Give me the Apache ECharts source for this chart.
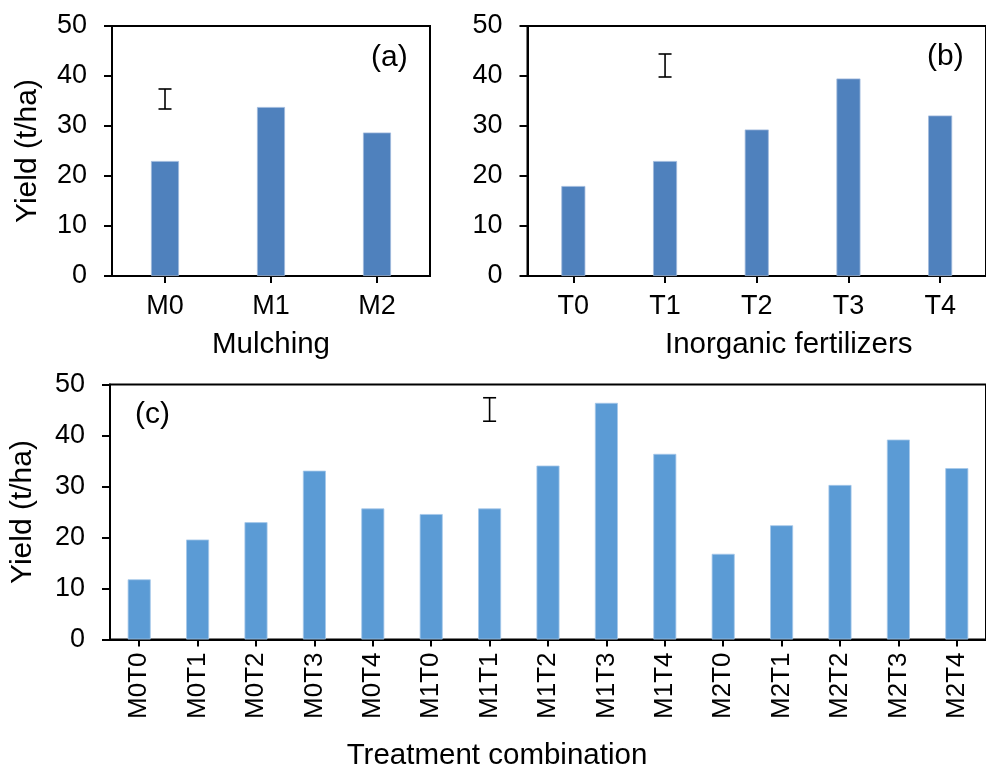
<!DOCTYPE html>
<html>
<head>
<meta charset="utf-8">
<script src="https://cdn.jsdelivr.net/npm/echarts@6/dist/echarts.min.js"></script>
<style>
html,body{margin:0;padding:0;background:#fff;}
#chart{width:986px;height:775px;}
</style>
</head>
<body>
<div id="chart"></div>
<script>
// ---- data ----
const mulchCats = ['M0', 'M1', 'M2'];
const mulchYield = [23.0, 33.8, 28.7];
const mulchLSD = [0, 33.4, 37.4]; // [category index, low, high]

const fertCats = ['T0', 'T1', 'T2', 'T3', 'T4'];
const fertYield = [18.0, 23.0, 29.3, 39.5, 32.1];
const fertLSD = [1, 39.8, 44.4];

const comboCats = ['M0T0','M0T1','M0T2','M0T3','M0T4','M1T0','M1T1','M1T2','M1T3','M1T4','M2T0','M2T1','M2T2','M2T3','M2T4'];
const comboYield = [11.8, 19.6, 23.0, 33.1, 25.7, 24.6, 25.7, 34.1, 46.4, 36.4, 16.8, 22.4, 30.3, 39.2, 33.6];
const comboLSD = [6, 42.8, 47.4];

const yTicks = [0, 10, 20, 30, 40, 50];

// ---- chart ----
const FONT = 'Liberation Sans, Arial, sans-serif';
const TITLE_SIZE = 29.5;
const chart = echarts.init(document.getElementById('chart'), null, {renderer: 'canvas'});

function errRender(params, api) {
  const x = api.value(0);
  const lo = api.coord([x, api.value(1)]);
  const hi = api.coord([x, api.value(2)]);
  const hw = 6.5;
  const st = {stroke: '#000', lineWidth: 1.6};
  return {type: 'group', children: [
    {type: 'line', shape: {x1: hi[0], y1: hi[1], x2: lo[0], y2: lo[1]}, style: st},
    {type: 'line', shape: {x1: hi[0]-hw, y1: hi[1], x2: hi[0]+hw, y2: hi[1]}, style: st},
    {type: 'line', shape: {x1: lo[0]-hw, y1: lo[1], x2: lo[0]+hw, y2: lo[1]}, style: st}
  ]};
}

const axisLine = {show: true, lineStyle: {color: '#000', width: 2}};
function yAx(gi, name, gap) {
  return {
    type: 'value', gridIndex: gi, min: yTicks[0], max: yTicks[yTicks.length-1], interval: 10,
    axisLine: axisLine,
    axisTick: {show: true, inside: false, length: 8, lineStyle: {color: '#000', width: 2}},
    axisLabel: {color: '#000', fontSize: 27, fontFamily: FONT, margin: 25},
    splitLine: {show: false},
    name: name, nameLocation: 'middle', nameGap: gap,
    nameTextStyle: {color: '#000', fontSize: 30, fontFamily: FONT}
  };
}
function xAx(gi, cats, name, gap, extra) {
  return Object.assign({
    type: 'category', gridIndex: gi, data: cats,
    axisLine: axisLine,
    axisTick: {show: true, alignWithLabel: true, length: 7, lineStyle: {color: '#000', width: 2}},
    axisLabel: {color: '#000', fontSize: 27, fontFamily: FONT, margin: 17},
    name: name, nameLocation: 'middle', nameGap: gap,
    nameTextStyle: {color: '#000', fontSize: TITLE_SIZE, fontFamily: FONT}
  }, extra || {});
}

const gridBase = {show: true, borderColor: '#000', borderWidth: 2, backgroundColor: 'transparent', containLabel: false};

chart.setOption({
  animation: false,
  backgroundColor: '#fff',
  grid: [
    Object.assign({left: 112, top: 26, width: 318, height: 250}, gridBase),
    Object.assign({left: 527.5, top: 26, width: 465, height: 250}, gridBase),
    Object.assign({left: 106, top: 384.5, width: 880, height: 255}, gridBase)
  ],
  xAxis: [
    xAx(0, mulchCats, 'Mulching', 54),
    xAx(1, fertCats, 'Inorganic fertilizers', 54, {nameTextStyle: {color: '#000', fontSize: TITLE_SIZE, fontFamily: FONT, padding: [0, 0, 0, 64]}}),
    xAx(2, comboCats, 'Treatment combination', 101, {
      axisLabel: {color: '#000', fontSize: 26, fontFamily: FONT, margin: 13, rotate: 90, interval: 0},
      nameTextStyle: {color: '#000', fontSize: TITLE_SIZE, fontFamily: FONT, padding: [0, 102, 0, 0]}
    })
  ],
  yAxis: [
    yAx(0, 'Yield (t/ha)', 69),
    yAx(1, '', 0),
    yAx(2, 'Yield (t/ha)', 72)
  ],
  graphic: [
    {type: 'text', left: 371, top: 43, style: {text: '(a)', fontSize: 30, fontFamily: FONT, fill: '#000'}},
    {type: 'text', left: 927, top: 42, style: {text: '(b)', fontSize: 30, fontFamily: FONT, fill: '#000'}},
    {type: 'text', left: 135, top: 400, style: {text: '(c)', fontSize: 30, fontFamily: FONT, fill: '#000'}}
  ],
  series: [
    {type: 'bar', xAxisIndex: 0, yAxisIndex: 0, data: mulchYield, barWidth: 28,
      itemStyle: {color: '#4F81BD', borderColor: '#9fb9dc', borderWidth: 0.8}},
    {type: 'bar', xAxisIndex: 1, yAxisIndex: 1, data: fertYield, barWidth: 24,
      itemStyle: {color: '#4F81BD', borderColor: '#9fb9dc', borderWidth: 0.8}},
    {type: 'bar', xAxisIndex: 2, yAxisIndex: 2, data: comboYield, barWidth: 23,
      itemStyle: {color: '#5B9BD5', borderColor: '#a6c8ea', borderWidth: 0.8}},
    {type: 'custom', xAxisIndex: 0, yAxisIndex: 0, renderItem: errRender, data: [mulchLSD], encode: {x: 0, y: [1, 2]}, z: 5},
    {type: 'custom', xAxisIndex: 1, yAxisIndex: 1, renderItem: errRender, data: [fertLSD], encode: {x: 0, y: [1, 2]}, z: 5},
    {type: 'custom', xAxisIndex: 2, yAxisIndex: 2, renderItem: errRender, data: [comboLSD], encode: {x: 0, y: [1, 2]}, z: 5}
  ]
});
</script>
</body>
</html>
